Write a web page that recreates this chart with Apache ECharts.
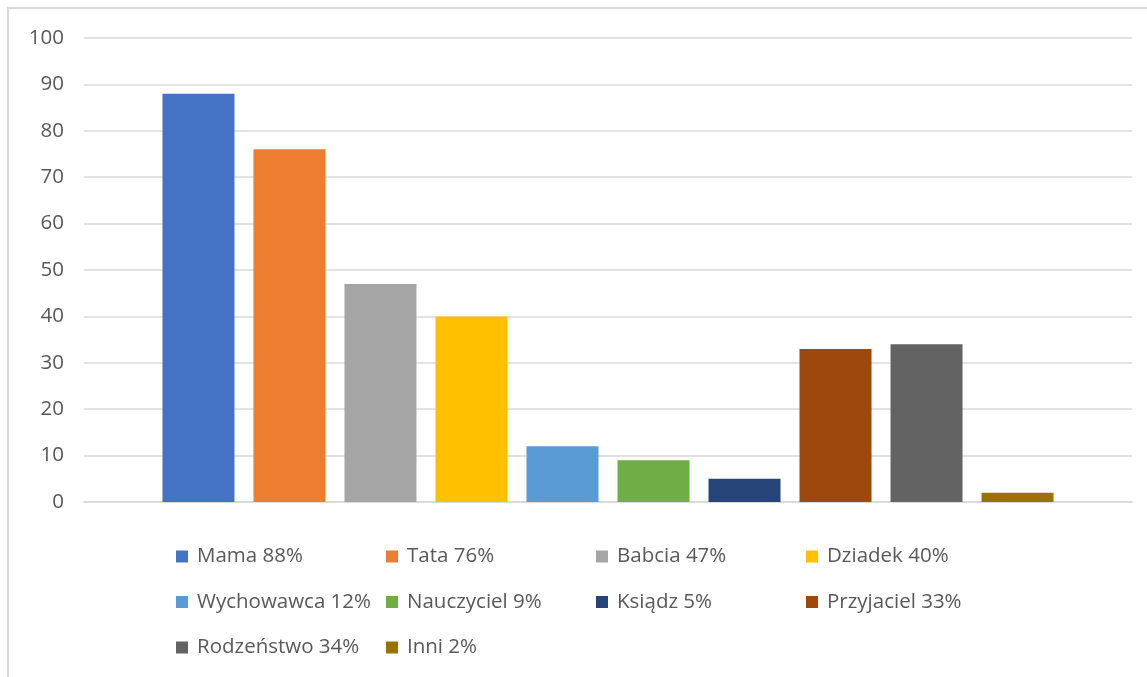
<!DOCTYPE html>
<html>
<head>
<meta charset="utf-8">
<script src="https://cdn.jsdelivr.net/npm/echarts@6/dist/echarts.min.js"></script>
<style>html,body{margin:0;padding:0;background:#fff;}#c{width:1147px;height:677px;}</style>
</head>
<body>
<div id="c"></div>
<script>
const seriesNames = ['Mama 88%','Tata 76%','Babcia 47%','Dziadek 40%','Wychowawca 12%','Nauczyciel 9%','Ksiądz 5%','Przyjaciel 33%','Rodzeństwo 34%','Inni 2%'];
const seriesValues = [88, 76, 47, 40, 12, 9, 5, 33, 34, 2];
const yTicks = [0, 10, 20, 30, 40, 50, 60, 70, 80, 90, 100];
const palette = ['#4472c4','#ed7d31','#a5a5a5','#ffc000','#5b9bd5','#70ad47','#264478','#9e480e','#636363','#997300'];

const FONT = 'Open Sans';
const TXT = '#595959';
const chart = echarts.init(document.getElementById('c'), null, {renderer:'canvas'});

const legends = seriesNames.map((n, i) => ({
  data: [n],
  left: 176 + (i % 4) * 210,
  top: 546 + Math.floor(i / 4) * 45.5,
  itemWidth: 12, itemHeight: 12, itemGap: 0,
  icon: 'rect',
  padding: 0,
  textStyle: {fontFamily: FONT, fontSize: 20.5, color: TXT, padding: [0,0,0,4]}
}));

chart.setOption({
  animation: false,
  color: palette,
  graphic: [{type:'rect', shape:{x:8, y:8, width:1200, height:700}, style:{fill:'none', stroke:'#d9d9d9', lineWidth:2}, silent:true}],
  grid: {left: 84, right: 15, top: 38, bottom: 175},
  legend: legends,
  xAxis: {
    type: 'category', data: [''],
    axisLine: {show: true, lineStyle: {color: '#d9d9d9', width: 1.5}},
    axisTick: {show: false}, axisLabel: {show: false}
  },
  yAxis: {
    type: 'value', min: yTicks[0], max: yTicks[yTicks.length-1], interval: 10,
    axisLine: {show: false}, axisTick: {show: false},
    splitLine: {lineStyle: {color: '#d9d9d9', width: 1.5}},
    axisLabel: {fontFamily: FONT, fontSize: 20.5, color: TXT, margin: 20}
  },
  series: seriesNames.map((n, i) => ({
    name: n, type: 'bar', data: [seriesValues[i]],
    barWidth: 72, barGap: '26.4%',
    itemStyle: {color: palette[i]}
  }))
});
</script>
</body>
</html>
